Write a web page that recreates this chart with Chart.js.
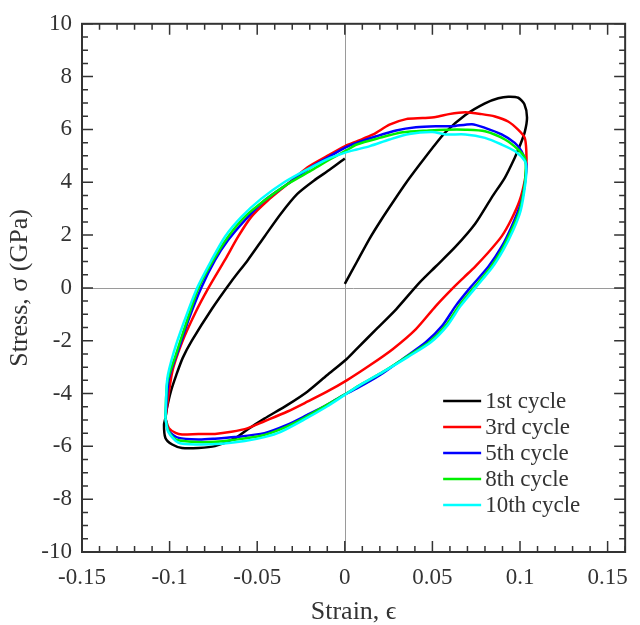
<!DOCTYPE html>
<html lang="en">
<head>
    <meta charset="UTF-8">
    <title>Stress-strain hysteresis</title>
    <script src="https://cdn.jsdelivr.net/npm/chart.js"></script>
    <style>
        body { margin: 0; background: #fff; }
    </style>
</head>
<body>
    <div style="width: 640px; height: 625px;">
        <canvas id="loops" width="640" height="625"></canvas>
    </div>

    <script>
        // series names and colours
        const cycleNames = ['1st cycle', '3rd cycle', '5th cycle', '8th cycle', '10th cycle'];
        const cycleColors = ['#000000', '#ff0000', '#0000ff', '#00f000', '#00ffff'];

        // axis ticks
        const xTicks = [-0.15, -0.1, -0.05, 0, 0.05, 0.1, 0.15];
        const xTickLabels = ['-0.15', '-0.1', '-0.05', '0', '0.05', '0.1', '0.15'];
        const yTicks = [-10, -8, -6, -4, -2, 0, 2, 4, 6, 8, 10];
        const yTickLabels = ['-10', '-8', '-6', '-4', '-2', '0', '2', '4', '6', '8', '10'];

        // 1st cycle (starts at origin)
        const strain1 = [0.000, 0.007, 0.014, 0.021, 0.028, 0.035, 0.0425, 0.050, 0.0575, 0.0688, 0.080, 0.0876, 0.0933, 0.099, 0.1025, 0.104, 0.1027, 0.100, 0.097, 0.0914, 0.0839, 0.0744, 0.0632, 0.0519, 0.0425, 0.0293, 0.018, 0.0068, 0.0011, -0.0102, -0.0214, -0.0327, -0.0459, -0.0553, -0.0628, -0.0741, -0.0835, -0.0929, -0.0985, -0.1024, -0.1032, -0.1024, -0.1015, -0.0992, -0.0962, -0.0925, -0.0873, -0.076, -0.0647, -0.0553, -0.0459, -0.0365, -0.0271, -0.0177, -0.0083, 0.000];
        const stress1 = [0.15, 1.00, 1.85, 2.60, 3.30, 3.98, 4.65, 5.30, 5.90, 6.55, 6.99, 7.18, 7.24, 7.20, 6.95, 6.45, 5.90, 5.40, 4.93, 4.18, 3.43, 2.43, 1.56, 0.81, 0.19, -0.81, -1.56, -2.31, -2.69, -3.31, -3.93, -4.43, -4.95, -5.35, -5.70, -5.99, -6.06, -6.06, -5.93, -5.68, -5.18, -4.93, -4.55, -3.90, -3.30, -2.65, -2.00, -0.81, 0.25, 1.06, 1.94, 2.81, 3.56, 4.06, 4.49, 4.90];

        // 3rd cycle
        const strain3 = [-0.1024, -0.0985, -0.0929, -0.0853, -0.0778, -0.0684, -0.0609, -0.0534, -0.044, -0.0327, -0.0214, -0.0102, 0.0002, 0.0068, 0.0162, 0.0255, 0.035, 0.0444, 0.0519, 0.0594, 0.0688, 0.0782, 0.0857, 0.0932, 0.0989, 0.1027, 0.1036, 0.1036, 0.1027, 0.0998, 0.0951, 0.0895, 0.082, 0.0744, 0.068, 0.0618, 0.0519, 0.0406, 0.0275, 0.0143, 0.0011, -0.0102, -0.0214, -0.0327, -0.0459, -0.0553, -0.0647, -0.0741, -0.0835, -0.0929, -0.0966, -0.1004, -0.1024];
        const stress3 = [-4.93, -3.18, -2.06, -0.94, 0.00, 1.06, 1.94, 2.69, 3.31, 3.93, 4.56, 4.99, 5.37, 5.55, 5.81, 6.18, 6.39, 6.43, 6.47, 6.58, 6.65, 6.58, 6.49, 6.30, 5.99, 5.68, 5.18, 4.56, 4.06, 3.31, 2.60, 1.95, 1.35, 0.81, 0.40, 0.00, -0.69, -1.56, -2.31, -2.93, -3.50, -3.93, -4.31, -4.68, -5.05, -5.31, -5.45, -5.53, -5.53, -5.55, -5.49, -5.31, -4.93];

        // 5th cycle
        const strain5 = [-0.1024, -0.1004, -0.0948, -0.0891, -0.082, -0.074, -0.0666, -0.0571, -0.0459, -0.0327, -0.0196, -0.0083, 0.0002, 0.0068, 0.018, 0.0293, 0.0406, 0.0519, 0.0613, 0.0726, 0.080, 0.0895, 0.097, 0.1008, 0.1036, 0.1027, 0.1005, 0.0951, 0.0895, 0.082, 0.0715, 0.0632, 0.0557, 0.0462, 0.0331, 0.0199, 0.0068, -0.0007, -0.0102, -0.0214, -0.0327, -0.0459, -0.0628, -0.0741, -0.0835, -0.0948, -0.1004, -0.1024];
        const stress5 = [-4.93, -3.43, -2.31, -1.19, 0.00, 1.06, 1.81, 2.56, 3.31, 3.93, 4.56, 4.99, 5.31, 5.49, 5.74, 5.96, 6.08, 6.12, 6.12, 6.20, 6.06, 5.81, 5.49, 5.18, 4.68, 3.93, 3.20, 2.31, 1.56, 0.81, 0.00, -0.69, -1.43, -2.06, -2.69, -3.31, -3.81, -4.06, -4.43, -4.81, -5.18, -5.50, -5.65, -5.71, -5.74, -5.68, -5.43, -4.93];

        // 8th cycle
        const strain8 = [-0.1024, -0.1013, -0.0966, -0.091, -0.0835, -0.075, -0.0666, -0.0571, -0.0459, -0.0327, -0.0196, -0.0083, 0.0002, 0.0068, 0.0199, 0.0331, 0.0481, 0.0575, 0.0688, 0.080, 0.0914, 0.0989, 0.1027, 0.1033, 0.1027, 0.0998, 0.0951, 0.0895, 0.0829, 0.0735, 0.065, 0.0575, 0.0481, 0.035, 0.0218, 0.0086, -0.0007, -0.0102, -0.0233, -0.0365, -0.0478, -0.0628, -0.0741, -0.0873, -0.0966, -0.1008, -0.1024];
        const stress8 = [-4.93, -3.56, -2.56, -1.43, 0.00, 1.06, 1.94, 2.69, 3.31, 3.93, 4.43, 4.87, 5.18, 5.43, 5.68, 5.89, 5.96, 5.99, 5.99, 5.93, 5.62, 5.24, 4.93, 4.60, 3.93, 2.93, 2.18, 1.43, 0.75, 0.00, -0.69, -1.43, -2.06, -2.62, -3.18, -3.68, -4.06, -4.43, -4.93, -5.35, -5.60, -5.75, -5.83, -5.83, -5.74, -5.40, -4.93];

        // 10th cycle
        const strain10 = [-0.1024, -0.1013, -0.0976, -0.0919, -0.0843, -0.076, -0.0684, -0.059, -0.0478, -0.0346, -0.0214, -0.0102, 0.0002, 0.0068, 0.0143, 0.0255, 0.0368, 0.050, 0.0575, 0.0688, 0.080, 0.0895, 0.097, 0.1027, 0.1036, 0.103, 0.1004, 0.0961, 0.0904, 0.0839, 0.0745, 0.066, 0.0585, 0.0491, 0.0359, 0.0218, 0.0086, -0.0007, -0.0102, -0.0233, -0.0365, -0.0459, -0.0571, -0.0703, -0.0835, -0.0948, -0.1008, -0.1024];
        const stress10 = [-4.93, -3.43, -2.43, -1.31, 0.00, 1.06, 1.94, 2.69, 3.37, 4.00, 4.49, 4.87, 5.12, 5.24, 5.37, 5.62, 5.83, 5.90, 5.81, 5.81, 5.68, 5.43, 5.18, 4.81, 4.50, 3.93, 2.93, 2.18, 1.43, 0.75, 0.00, -0.69, -1.43, -2.06, -2.62, -3.18, -3.68, -4.08, -4.49, -4.99, -5.45, -5.65, -5.80, -5.90, -5.93, -5.87, -5.45, -4.93];

        const strains = [strain1, strain3, strain5, strain8, strain10];
        const stresses = [stress1, stress3, stress5, stress8, stress10];

        const serif = 'Liberation Serif, Times New Roman, serif';
        const inkColor = '#333333';

        // zero lines, frame, inward ticks on all sides and the legend
        const framePlugin = {
            id: 'frame',
            beforeDatasetsDraw(chart) {
                const a = chart.chartArea;
                const xs = chart.scales.x, ys = chart.scales.y;
                const ctx = chart.ctx;
                ctx.save();
                ctx.strokeStyle = '#9a9a9a';
                ctx.lineWidth = 1;
                ctx.beginPath();
                const x0 = Math.round(xs.getPixelForValue(0)) + 0.5;
                const y0 = Math.round(ys.getPixelForValue(0)) + 0.5;
                ctx.moveTo(x0, a.top); ctx.lineTo(x0, a.bottom);
                ctx.moveTo(a.left, y0); ctx.lineTo(a.right, y0);
                ctx.stroke();
                ctx.restore();
            },
            afterDraw(chart) {
                const a = chart.chartArea;
                const xs = chart.scales.x, ys = chart.scales.y;
                const ctx = chart.ctx;
                ctx.save();
                ctx.strokeStyle = inkColor;
                ctx.lineWidth = 1.5;
                ctx.beginPath();
                // x ticks, minor every 0.01
                for (let i = -15; i <= 16; i++) {
                    const px = xs.getPixelForValue(i / 100);
                    const len = (i % 5 === 0) ? 11 : 6;
                    ctx.moveTo(px, a.bottom); ctx.lineTo(px, a.bottom - len);
                    ctx.moveTo(px, a.top); ctx.lineTo(px, a.top + len);
                }
                // y ticks, minor every 0.5
                for (let j = -20; j <= 20; j++) {
                    const py = ys.getPixelForValue(j / 2);
                    const len = (j % 4 === 0) ? 11 : 6;
                    ctx.moveTo(a.left, py); ctx.lineTo(a.left + len, py);
                    ctx.moveTo(a.right, py); ctx.lineTo(a.right - len, py);
                }
                ctx.stroke();
                ctx.lineWidth = 2;
                ctx.strokeRect(a.left, a.top, a.right - a.left, a.bottom - a.top);

                // legend inside the lower right corner
                const lx = a.right - 182;
                let ly = a.bottom - 151;
                ctx.font = '23px ' + serif;
                ctx.textBaseline = 'middle';
                ctx.textAlign = 'left';
                chart.data.datasets.forEach(ds => {
                    ctx.strokeStyle = ds.borderColor;
                    ctx.lineWidth = 2.5;
                    ctx.beginPath();
                    ctx.moveTo(lx, ly); ctx.lineTo(lx + 38, ly);
                    ctx.stroke();
                    ctx.fillStyle = inkColor;
                    ctx.fillText(ds.label, lx + 42, ly + 1);
                    ly += 26;
                });
                ctx.restore();
            }
        };

        const datasets = cycleNames.map((name, i) => ({
            label: name,
            data: strains[i].map((s, k) => ({ x: s, y: stresses[i][k] })),
            borderColor: cycleColors[i],
            backgroundColor: cycleColors[i],
            borderWidth: 2.5,
            pointRadius: 0,
            showLine: true,
            tension: 0.25,
            order: cycleNames.length - i
        }));

        new Chart(document.getElementById('loops').getContext('2d'), {
            type: 'scatter',
            data: { datasets: datasets },
            options: {
                responsive: false,
                animation: false,
                layout: { padding: { top: 18, right: 8, left: 0, bottom: 0 } },
                plugins: {
                    legend: { display: false },
                    tooltip: { enabled: false }
                },
                scales: {
                    x: {
                        type: 'linear',
                        min: -0.15,
                        max: 0.16,
                        afterBuildTicks: s => { s.ticks = xTicks.map(v => ({ value: v })); },
                        afterFit: s => { s.height = 73; },
                        grid: { display: false, drawTicks: false },
                        border: { display: false },
                        ticks: {
                            padding: 12,
                            color: inkColor,
                            font: { family: serif, size: 23 },
                            maxRotation: 0,
                            callback: (v, i) => xTickLabels[i]
                        },
                        title: {
                            display: true,
                            text: 'Strain, ϵ',
                            color: inkColor,
                            font: { family: serif, size: 26, lineHeight: 1 },
                            padding: { top: 0, bottom: 0 }
                        }
                    },
                    y: {
                        type: 'linear',
                        min: -10,
                        max: 10,
                        afterBuildTicks: s => { s.ticks = yTicks.map(v => ({ value: v })); },
                        afterFit: s => { s.width = 82; },
                        grid: { display: false, drawTicks: false },
                        border: { display: false },
                        ticks: {
                            padding: 10,
                            color: inkColor,
                            font: { family: serif, size: 23 },
                            callback: (v, i) => yTickLabels[i]
                        },
                        title: {
                            display: true,
                            text: 'Stress, σ (GPa)',
                            color: inkColor,
                            font: { family: serif, size: 26 },
                            padding: { top: 5, bottom: 0 }
                        }
                    }
                }
            },
            plugins: [framePlugin]
        });
    </script>
</body>
</html>
